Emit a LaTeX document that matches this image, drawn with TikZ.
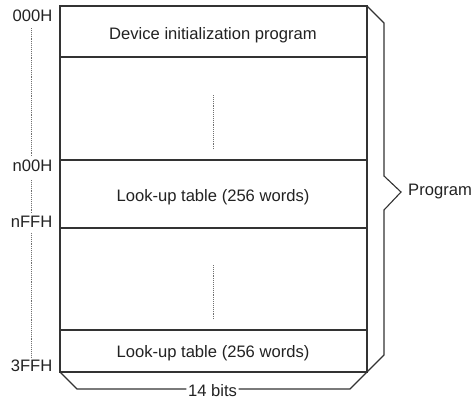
\documentclass[tikz,border=0pt]{standalone}
\usepackage{fontspec}
\setmainfont{Liberation Sans}
\definecolor{ln}{HTML}{333333}
\definecolor{tx}{HTML}{222222}
\definecolor{dt}{HTML}{707070}
\tikzset{
  boxline/.style={draw=ln, line width=1.1pt},
  brace/.style={draw=ln, line width=1.1pt, line join=miter},
  dotline/.style={draw=dt, line width=0.9pt, dash pattern=on 0.9pt off 1pt},
  lbl/.style={text=tx, inner sep=0pt, font=\fontsize{16.6}{20}\selectfont},
}
\begin{document}
\begin{tikzpicture}[x=1pt,y=-1pt]
\useasboundingbox (0,0) rectangle (474,399);
% box corners and separators
\coordinate (boxTL) at (60,6);
\coordinate (boxTR) at (367,6);
\coordinate (boxBL) at (60,372);
\coordinate (boxBR) at (367,372);
\draw[boxline] (boxTL) rectangle (boxBR);
\foreach \y/\n in {57/A,160/B,228/C,330/D}{
  \coordinate (sep\n W) at (60,\y);
  \coordinate (sep\n E) at (367,\y);
  \draw[boxline] (sep\n W) -- (sep\n E);
}
% texts in box
\node[lbl, anchor=base] (dev) at (213,39.3) {Device initialization program};
\node[lbl, anchor=base] (lut1) at (213,201.7) {Look-up table (256 words)};
\node[lbl, anchor=base] (lut2) at (213,357) {Look-up table (256 words)};
% dotted in box
\coordinate (d1a) at (213,95); \coordinate (d1b) at (213,150);
\coordinate (d2a) at (213,265); \coordinate (d2b) at (213,320);
\draw[dotline] (d1a) -- (d1b);
\draw[dotline] (d2a) -- (d2b);
% address labels
\node[lbl, anchor=base east] (a0) at (52.5,21.7) {000H};
\node[lbl, anchor=base east] (a1) at (52.5,171.7) {n00H};
\node[lbl, anchor=base east] (a2) at (52.5,227.3) {nFFH};
\node[lbl, anchor=base east] (a3) at (52.5,371.7) {3FFH};
% left dotted
\coordinate (l1) at (31,28); \coordinate (l2) at (31,157);
\coordinate (l3) at (31,180); \coordinate (l4) at (31,213);
\coordinate (l5) at (31,233); \coordinate (l6) at (31,357);
\draw[dotline] (l1) -- (l2);
\draw[dotline] (l3) -- (l4);
\draw[dotline] (l5) -- (l6);
% right brace
\node[lbl, anchor=west] (prog) at (408,192) {Program};
\draw[brace] (boxTR) -- (384,23) -- (384,176) -- (401,192) -- (384,210) -- (384,355) -- (boxBR);
% bottom brace
\node[lbl, anchor=base] (bits) at (212.5,396.5) {14 bits};
\coordinate (bitsL) at ([xshift=-1.5pt]bits.west |- 0,389);
\coordinate (bitsR) at ([xshift=1.5pt]bits.east |- 0,389);
\draw[brace] (boxBL) -- (77,389) -- (bitsL);
\draw[brace] (bitsR) -- (350,389) -- (boxBR);
\end{tikzpicture}
\end{document}
